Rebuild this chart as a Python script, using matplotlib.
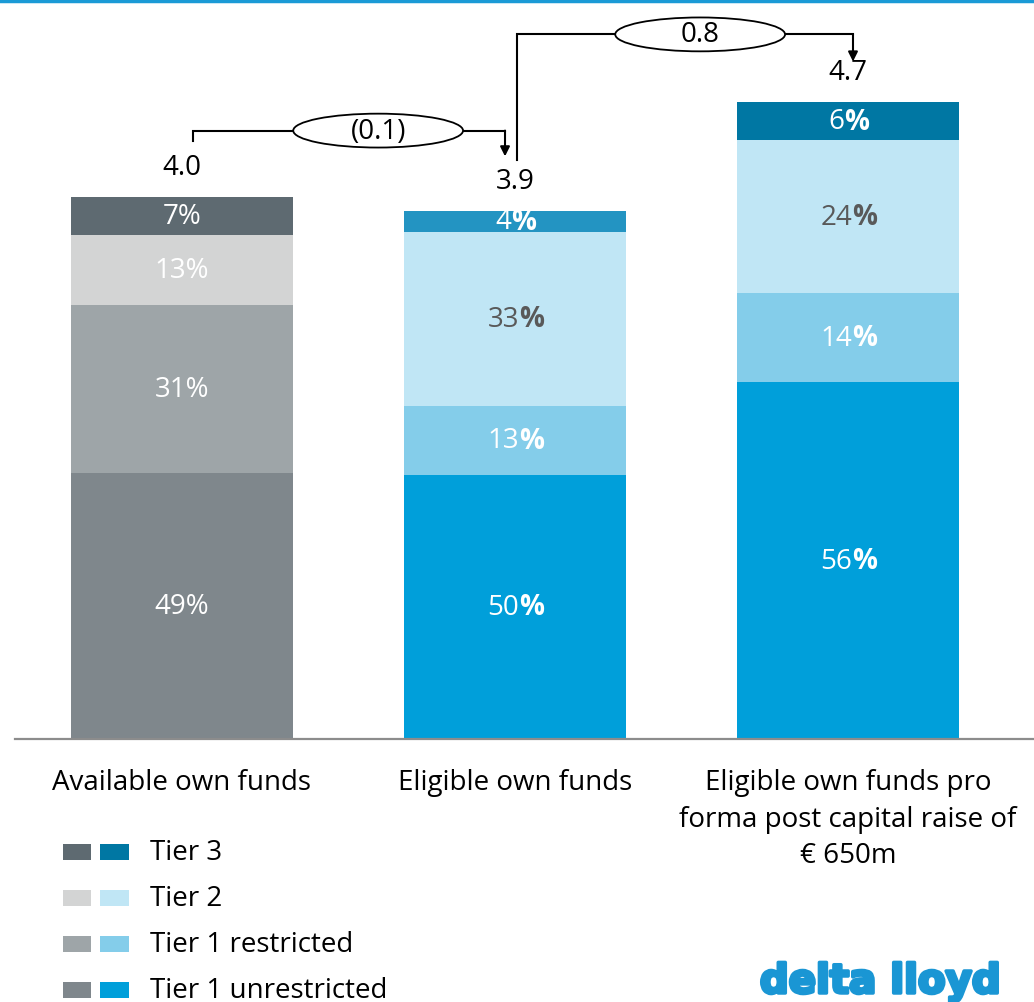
import matplotlib
matplotlib.use('Agg')
import matplotlib.pyplot as plt
import matplotlib.patheffects as pe
from matplotlib.patches import Ellipse, Rectangle

plt.rcParams['font.family'] = ['Open Sans', 'DejaVu Sans']

# own funds per column (EUR bn) and tier mix (%)
categories = ['Available own funds',
              'Eligible own funds',
              'Eligible own funds pro\nforma post capital raise of\n€ 650m']
totals = [4.0, 3.9, 4.7]
tiers = ['Tier 1 unrestricted', 'Tier 1 restricted', 'Tier 2', 'Tier 3']
tier_pct = {
    'Tier 1 unrestricted': [49, 50, 56],
    'Tier 1 restricted': [31, 13, 14],
    'Tier 2': [13, 33, 24],
    'Tier 3': [7, 4, 6],
}

grey = {'Tier 1 unrestricted': '#7f878c', 'Tier 1 restricted': '#9ea5a8',
        'Tier 2': '#d3d4d4', 'Tier 3': '#5e6a71'}
blue = {'Tier 1 unrestricted': '#009fda', 'Tier 1 restricted': '#84cdea',
        'Tier 2': '#c0e6f5', 'Tier 3': '#0077a3'}
bar_colors = [
    dict(grey),
    dict(blue, **{'Tier 3': '#2394c2'}),
    dict(blue),
]
label_colors = {'Tier 2': '#595959'}

W, H = 1034, 1003
fig = plt.figure(figsize=(W / 100, H / 100), dpi=100)

base_px, unit_px, x0_px, step_px = 740, 135.5, 182, 333
ax = fig.add_axes([15 / W, (H - base_px) / H, (W - 15) / W, base_px / H])
ax.set_xlim((15 - x0_px) / step_px, (W - x0_px) / step_px)
ax.set_ylim(0, base_px / unit_px)
ax.patch.set_visible(False)
for s in ['top', 'right', 'left']:
    ax.spines[s].set_visible(False)
ax.spines['bottom'].set_color('#8c8c8c')
ax.spines['bottom'].set_linewidth(1.6)
ax.set_yticks([])

# pixel helper axes for legend, rule and logo
pax = fig.add_axes([0, 0, 1, 1])
pax.set_xlim(0, W)
pax.set_ylim(H, 0)
pax.axis('off')

fs = 20
x = list(range(len(categories)))
bottoms = [0.0] * len(x)
for t in tiers:
    for i in x:
        h = totals[i] * tier_pct[t][i] / 100
        ax.bar(i, h, width=0.667, bottom=bottoms[i], color=bar_colors[i][t],
               edgecolor='none')
        yc = bottoms[i] + h / 2
        col = label_colors.get(t, 'white') if i > 0 else 'white'
        num = str(tier_pct[t][i])
        if i == 0:
            ax.text(i, yc, num + '%', ha='center', va='center', color=col,
                    fontsize=fs)
        else:
            # number regular, percent sign bold
            split = (len(num) * 0.57 - 0.86) / 2 * fs
            ax.annotate(num, (i, yc), xytext=(split, 0), textcoords='offset points',
                        ha='right', va='center', color=col, fontsize=fs)
            ax.annotate('%', (i, yc), xytext=(split, 0), textcoords='offset points',
                        ha='left', va='center', color=col, fontsize=fs,
                        fontweight='bold')
        bottoms[i] += h

for i in x:
    ax.text(i, totals[i] + 0.22, f'{totals[i]:.1f}', ha='center', va='center',
            fontsize=fs, color='black')

ax.set_xticks(x, categories, fontsize=fs, linespacing=1.4)
ax.tick_params(axis='x', length=0, pad=21)


def bridge(x_from, y_from, x_to, y_to, level, xc, delta):
    ax.plot([x_from, x_from, x_to, x_to], [y_from, level, level, level],
            color='black', lw=1.5, clip_on=False, solid_joinstyle='miter')
    ax.annotate('', xy=(x_to, y_to), xytext=(x_to, level),
                arrowprops=dict(arrowstyle='-|>', color='black', lw=1.5,
                                mutation_scale=14, shrinkA=0, shrinkB=0),
                annotation_clip=False)
    ax.add_patch(Ellipse((xc, level), 0.51, 0.25, facecolor='white',
                         edgecolor='black', lw=1.3, clip_on=False, zorder=3))
    txt = f'({abs(delta):.1f})' if delta < 0 else f'{delta:.1f}'
    ax.text(xc, level, txt, ha='center', va='center', fontsize=fs, zorder=4)


bridge(0.033, totals[0] + 0.41, 0.97, totals[1] + 0.40, totals[0] + 0.49,
       0.589, totals[1] - totals[0])
bridge(1.006, totals[1] + 0.37, 2.015, totals[2] + 0.30, totals[2] + 0.50,
       1.556, totals[2] - totals[1])

# top rule
pax.plot([0, W], [2, 2], color='#1a9ad6', lw=2.5)

# legend: grey and blue swatch per tier
for k, t in enumerate(reversed(tiers)):
    yy = 853 + 46 * k
    pax.add_patch(Rectangle((63, yy - 8), 28, 16, color=grey[t], lw=0))
    pax.add_patch(Rectangle((100, yy - 8), 29, 16, color=blue[t], lw=0))
    pax.text(150, yy, t, ha='left', va='center', fontsize=fs, color='black')

pax.text(880, 994, 'delta lloyd', ha='center', va='baseline', fontsize=29,
         fontweight='bold', family=['DejaVu Sans'], color='#1a96d4',
         path_effects=[pe.withStroke(linewidth=2.5, foreground='#1a96d4')])

fig.savefig('out.png', dpi=100)
